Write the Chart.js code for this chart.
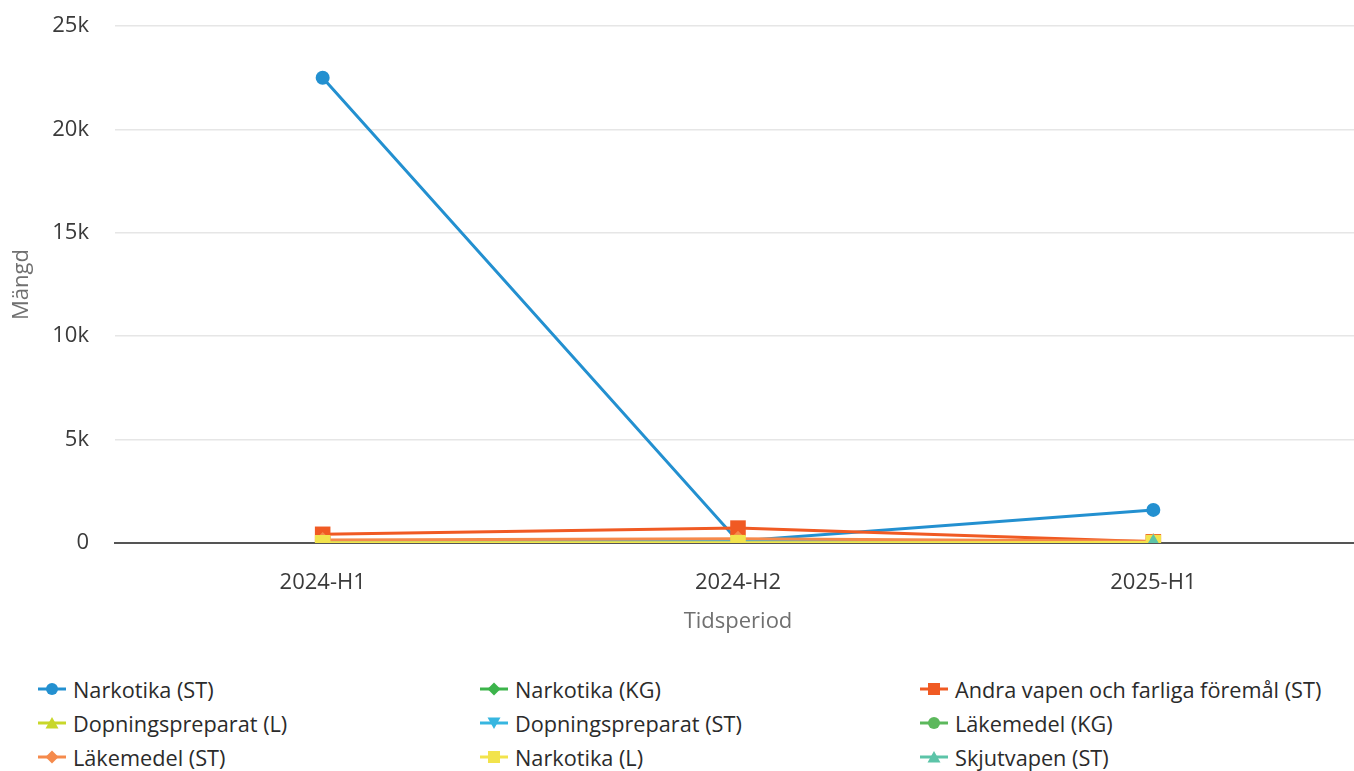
<!DOCTYPE html>
<html>
<head>
<meta charset="utf-8">
<script src="https://cdn.jsdelivr.net/npm/chart.js@4/dist/chart.umd.min.js"></script>
<style>
  html,body{margin:0;padding:0;background:#fff;width:1354px;height:771px;overflow:hidden;font-family:"Open Sans",sans-serif;}
  #wrap{position:absolute;left:0;top:0;width:1372px;height:645px;}
  #legend{position:absolute;left:0;top:672px;width:1354px;}
  .li{position:absolute;height:34px;display:flex;align-items:center;font-size:21.7px;color:#2b2b2b;white-space:nowrap;}
  .li svg{margin-right:7px;}
</style>
</head>
<body>
<div id="wrap"><canvas id="c"></canvas></div>
<div id="legend"></div>
<script>
const categories = ["2024-H1", "2024-H2", "2025-H1"];
const seriesNames = [
  "Narkotika (ST)", "Narkotika (KG)", "Andra vapen och farliga föremål (ST)",
  "Dopningspreparat (L)", "Dopningspreparat (ST)", "Läkemedel (KG)",
  "Läkemedel (ST)", "Narkotika (L)", "Skjutvapen (ST)"
];
const narkotikaST = [22500, 100, 1600];
const narkotikaKG = [20, 30, 10];
const andraVapenST = [420, 720, 60];
const dopningL = [5, 10, 5];
const dopningST = [50, 80, 30];
const lakemedelKG = [2, 3, 1];
const lakemedelST = [150, 200, 90];
const narkotikaL = [10, 15, 20];
const skjutvapenST = [null, null, 10];
const yTicks = [0, 5000, 10000, 15000, 20000, 25000];

const seriesValues = [narkotikaST, narkotikaKG, andraVapenST, dopningL, dopningST, lakemedelKG, lakemedelST, narkotikaL, skjutvapenST];
const colors = ["#2390d0", "#3cb44b", "#f05a23", "#c8d72a", "#37b6e0", "#5cb85c", "#f58a4c", "#f2e34c", "#5cc4a8"];
const styles = ["circle", "rectRot", "rect", "triangle", "triangle", "circle", "rectRot", "rect", "triangle"];
const rotations = [0, 0, 0, 0, 180, 0, 0, 0, 0];
const radii = { circle: 7, rectRot: 8, rect: 11, triangle: 9 };

const datasets = seriesNames.map((n, i) => ({
  label: n,
  data: seriesValues[i],
  borderColor: colors[i],
  backgroundColor: colors[i],
  borderWidth: 3,
  pointStyle: styles[i],
  pointRotation: rotations[i],
  pointRadius: radii[styles[i]],
  pointBorderWidth: 0,
  tension: 0,
  order: seriesNames.length - i
}));

const tickFont = { family: 'Open Sans', size: 22 };
new Chart(document.getElementById('c'), {
  type: 'line',
  data: { labels: categories, datasets },
  options: {
    responsive: true,
    maintainAspectRatio: false,
    animation: false,
    layout: { padding: { top: 0, right: 0, left: 0, bottom: 0 } },
    plugins: { legend: { display: false }, tooltip: { enabled: false } },
    scales: {
      x: {
        offset: true,
        afterFit: (s) => { s.height = 102; },
        grid: { display: false, drawTicks: false },
        border: { display: true, color: '#555', width: 2 },
        ticks: { color: '#3a3a3a', font: tickFont, padding: 27 },
        title: { display: true, text: 'Tidsperiod', color: '#707070', font: { family: 'Open Sans', size: 22 }, padding: { top: 0, bottom: 10 } }
      },
      y: {
        min: 0, max: 25000,
        afterFit: (s) => { s.width = 115; s.paddingTop = 26; s.paddingBottom = 0; },
        afterBuildTicks: (ax) => { ax.ticks = yTicks.map(v => ({ value: v })); },
        grid: { color: '#e6e6e6', lineWidth: 1.5, drawTicks: false },
        border: { display: false },
        ticks: {
          color: '#3a3a3a', font: tickFont, padding: 26,
          callback: (v) => v === 0 ? '0' : (v / 1000) + 'k'
        },
        title: { display: true, text: 'Mängd', color: '#707070', font: { family: 'Open Sans', size: 22 }, padding: { top: 9, bottom: 0 } }
      }
    }
  }
});

// HTML legend in three columns
const legend = document.getElementById('legend');
const colX = [38, 480, 920];
function markerSvg(i) {
  const c = colors[i];
  let shape = '';
  if (styles[i] === 'circle') shape = `<circle cx="14" cy="8" r="6" fill="${c}"/>`;
  else if (styles[i] === 'rectRot') shape = `<polygon points="14,1.5 20.5,8 14,14.5 7.5,8" fill="${c}"/>`;
  else if (styles[i] === 'rect') shape = `<rect x="8" y="2" width="12" height="12" fill="${c}"/>`;
  else if (rotations[i] === 180) shape = `<polygon points="7.5,2.5 20.5,2.5 14,14" fill="${c}"/>`;
  else shape = `<polygon points="14,2 20.5,13.5 7.5,13.5" fill="${c}"/>`;
  return `<svg width="28" height="16" viewBox="0 0 28 16"><line x1="0" y1="8" x2="28" y2="8" stroke="${c}" stroke-width="3"/>${shape}</svg>`;
}
seriesNames.forEach((n, i) => {
  const d = document.createElement('div');
  d.className = 'li';
  d.style.left = colX[i % 3] + 'px';
  d.style.top = (Math.floor(i / 3) * 34) + 'px';
  d.innerHTML = markerSvg(i) + '<span>' + n + '</span>';
  legend.appendChild(d);
});
</script>
</body>
</html>
